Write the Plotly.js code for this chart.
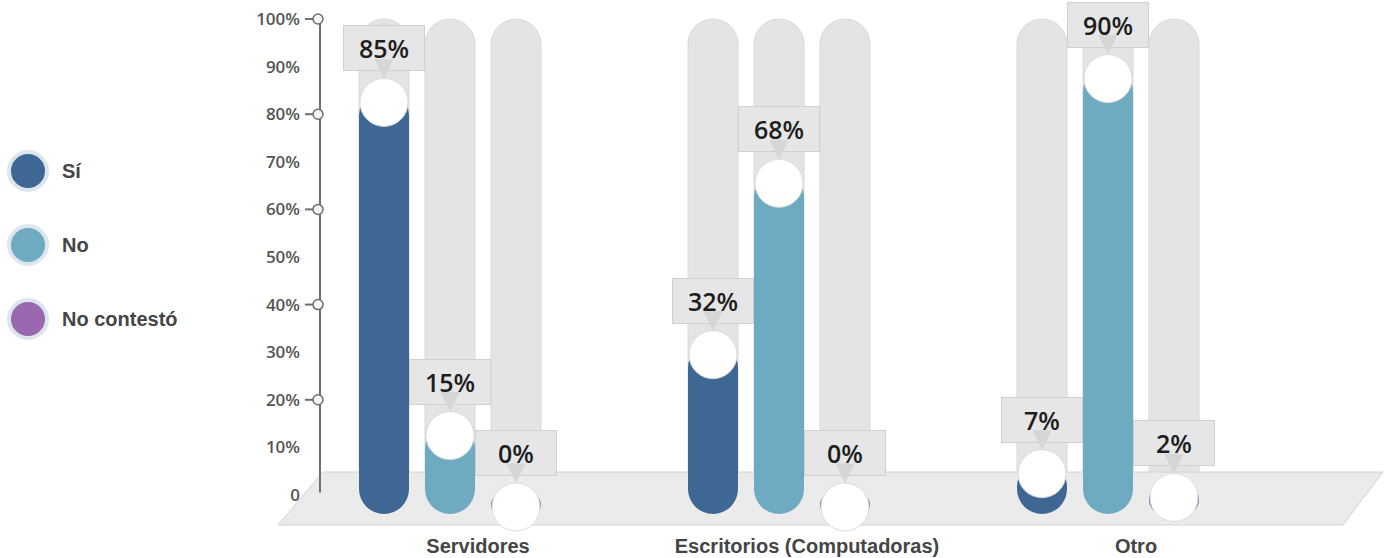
<!DOCTYPE html>
<html>
<head>
<meta charset="utf-8">
<script src="https://cdn.plot.ly/plotly-3.0.1.min.js"></script>
<style>html,body{margin:0;padding:0;background:#fff;}#chart{width:1384px;height:558px;}</style>
</head>
<body>
<div id="chart"></div>
<script>
// ---------- DATA ----------
const categories = ['Servidores', 'Escritorios (Computadoras)', 'Otro'];
const seriesNames = ['Sí', 'No', 'No contestó'];
const siValues = [85, 32, 7];
const noValues = [15, 68, 90];
const noContestoValues = [0, 0, 2];
const yTickValues = [0, 10, 20, 30, 40, 50, 60, 70, 80, 90, 100];
const yTickLabels = ['0', '10%', '20%', '30%', '40%', '50%', '60%', '70%', '80%', '90%', '100%'];
const markedTicks = [20, 40, 60, 80, 100];
const fullScale = 100;

// ---------- STYLE / GEOMETRY ----------
const seriesValues = [siValues, noValues, noContestoValues];
const COLORS = ['#3e6794', '#6eaac2', '#9a68ae'];
const W = 1384, H = 558;
const Y0_PX = 495, PX_PER_UNIT = 4.76;      // y scale
const X0_PX = 450, PX_PER_CAT = 329;        // x scale
const SLOT_PX = 66, BAR_PX = 50;
const xRange = [(0 - X0_PX) / PX_PER_CAT, (W - X0_PX) / PX_PER_CAT];
const yRange = [(Y0_PX - H) / PX_PER_UNIT, Y0_PX / PX_PER_UNIT];
const BAR_W = BAR_PX / PX_PER_CAT;
const xPos = (i, j) => i + (j - 1) * SLOT_PX / PX_PER_CAT;
const px2x = p => (p - X0_PX) / PX_PER_CAT;
const px2y = p => (Y0_PX - p) / PX_PER_UNIT;
const TRACK_BASE = -6;
const BAR_BOTTOM = px2y(514);
const R = 24, S = 12, P = 7, BOX_H = 46, BOX_W = 82;
const AXIS_POS = 320 / W;
const LABEL_FONT = '"Liberation Sans", Arial, sans-serif';
const OPEN = '"Open Sans", "Noto Sans", sans-serif';

const traces = [];
// gray 100% tracks (base subplot)
seriesNames.forEach((name, j) => {
  traces.push({
    type: 'bar', xaxis: 'x', yaxis: 'y', showlegend: false, hoverinfo: 'skip',
    x: categories.map((c, i) => xPos(i, j)),
    y: categories.map(() => fullScale - TRACK_BASE),
    base: TRACK_BASE, width: BAR_W,
    marker: {color: '#e4e4e4', cornerradius: '50%', line: {color: '#dadada', width: 1}}
  });
});
// floor (base subplot, above tracks)
const floorPx = [[323, 472], [1383, 472], [1343, 525], [278, 525], [323, 472]];
traces.push({
  type: 'scatter', mode: 'lines', xaxis: 'x', yaxis: 'y', showlegend: false, hoverinfo: 'skip',
  x: floorPx.map(p => px2x(p[0])), y: floorPx.map(p => px2y(p[1])),
  fill: 'toself', fillcolor: '#ebebeb', line: {color: '#d2d2d2', width: 1}
});
// value bars (overlay subplot): drawn from the value down to the rounded foot
seriesNames.forEach((name, j) => {
  traces.push({
    type: 'bar', xaxis: 'x2', yaxis: 'y2', name: name, showlegend: false,
    x: categories.map((c, i) => xPos(i, j)),
    base: seriesValues[j], y: seriesValues[j].map(v => BAR_BOTTOM - v), width: BAR_W,
    customdata: seriesValues[j], hovertemplate: name + ': %{customdata}%<extra></extra>',
    marker: {color: COLORS[j], cornerradius: '50%'}
  });
});

const shapes = [];
const annotations = [];
// y axis line, stubs and knobs
shapes.push({type: 'line', xref: 'paper', yref: 'y', x0: AXIS_POS, x1: AXIS_POS, y0: 0.5, y1: fullScale,
  line: {color: '#6f6f6f', width: 2}});
markedTicks.forEach(v => {
  shapes.push({type: 'line', xref: 'paper', yref: 'y', xsizemode: 'pixel', xanchor: AXIS_POS,
    x0: -15, x1: 0, y0: v, y1: v, line: {color: '#6f6f6f', width: 2}});
  shapes.push({type: 'circle', xref: 'paper', yref: 'y', xsizemode: 'pixel', ysizemode: 'pixel',
    xanchor: AXIS_POS - 2 / W, yanchor: v, x0: -5, x1: 5, y0: -5, y1: 5,
    fillcolor: '#f4f4f4', line: {color: '#6f6f6f', width: 1.5}});
});
// white knobs and callouts
seriesValues.forEach((vals, j) => {
  vals.forEach((v, i) => {
    shapes.push({type: 'circle', xref: 'x2', yref: 'y2', xsizemode: 'pixel', ysizemode: 'pixel',
      xanchor: xPos(i, j), yanchor: v, x0: -R, x1: R, y0: -(S + R), y1: R - S,
      fillcolor: '#ffffff', line: {color: '#dcdcdc', width: 1}});
    annotations.push({xref: 'x2', yref: 'y2', x: xPos(i, j), y: v, text: v + '%',
      showarrow: true, ax: 0, ay: -((R - S) + P + BOX_H / 2), standoff: R - S,
      arrowhead: 2, arrowsize: 1.3, arrowwidth: 3, arrowcolor: '#d6d6d6',
      bgcolor: '#e6e6e6', bordercolor: '#d0d0d0', borderwidth: 1, borderpad: 1,
      width: BOX_W - 4, height: BOX_H - 4,
      font: {family: OPEN, size: 25, weight: 600, color: '#1e1e1e'}});
  });
});
// legend (drawn from seriesNames / COLORS)
seriesNames.forEach((name, j) => {
  const yPaper = 1 - (171 + 74 * j) / H;
  shapes.push({type: 'circle', xref: 'paper', yref: 'paper', xsizemode: 'pixel', ysizemode: 'pixel',
    xanchor: 28 / W, yanchor: yPaper, x0: -19, x1: 19, y0: -19, y1: 19,
    fillcolor: COLORS[j], line: {color: '#dde6ec', width: 4}});
  annotations.push({xref: 'paper', yref: 'paper', x: 60 / W, y: yPaper, xanchor: 'left', yanchor: 'middle',
    showarrow: false, text: name, font: {family: LABEL_FONT, size: 20, weight: 700, color: '#454545'}});
});

const layout = {
  width: W, height: H, margin: {l: 0, r: 0, t: 0, b: 0},
  paper_bgcolor: '#ffffff', plot_bgcolor: 'rgba(0,0,0,0)',
  barmode: 'overlay', showlegend: false,
  xaxis: {domain: [0, 1], range: xRange, anchor: 'free', position: (H - 530) / H,
    tickmode: 'array', tickvals: categories.map((c, i) => i), ticktext: categories,
    ticks: '', showline: false, showgrid: false, zeroline: false,
    ticklabelshift: 28, ticklabelstandoff: 2, automargin: false,
    tickfont: {family: LABEL_FONT, size: 20, weight: 700, color: '#454545'}},
  yaxis: {domain: [0, 1], range: yRange, anchor: 'free', position: AXIS_POS,
    tickmode: 'array', tickvals: yTickValues, ticktext: yTickLabels,
    ticks: '', showline: false, showgrid: false, zeroline: false,
    ticklabelstandoff: 20, automargin: false,
    tickfont: {family: OPEN, size: 17, weight: 600, color: '#555555'}},
  xaxis2: {overlaying: 'x', anchor: 'y2', range: xRange, visible: false},
  yaxis2: {overlaying: 'y', anchor: 'x2', range: yRange, visible: false},
  shapes: shapes, annotations: annotations
};
Plotly.newPlot('chart', traces, layout, {displayModeBar: false});
</script>
</body>
</html>
